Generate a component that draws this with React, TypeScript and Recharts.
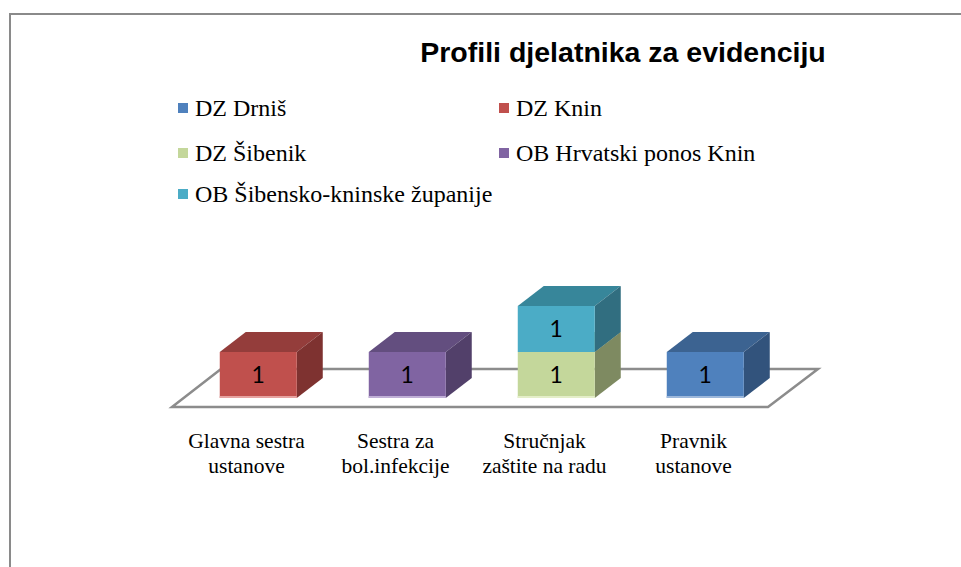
import React from 'react';
import { BarChart, Bar, XAxis, YAxis, ReferenceArea, LabelList } from 'recharts';

// categories (line break where the original wraps)
const categories = ['Glavna sestra\nustanove', 'Sestra za\nbol.infekcije', 'Stručnjak\nzaštite na radu', 'Pravnik\nustanove'];

// series values per category (null = no bar)
const dzDrnis = [null, null, null, 1];
const dzKnin = [1, null, null, null];
const dzSibenik = [null, null, 1, null];
const obHrvatskiPonos = [null, 1, null, null];
const obSibenskoKninske = [null, null, 1, null];

const seriesNames = ['DZ Drniš', 'DZ Knin', 'DZ Šibenik', 'OB Hrvatski ponos Knin', 'OB Šibensko-kninske županije'];
const seriesValues = [dzDrnis, dzKnin, dzSibenik, obHrvatskiPonos, obSibenskoKninske];

const seriesStyle = [
  { front: '#4F81BD', top: '#3C6391', side: '#32537C', strip: '#9DB8DB', base: true },
  { front: '#C0504D', top: '#943D3B', side: '#7E3230', strip: '#E6A3A1', base: true },
  { front: '#C4D79B', top: '#98A878', side: '#7E8A61', strip: '#E4EEC9', base: true },
  { front: '#8064A2', top: '#634E7F', side: '#52406A', strip: '#C0AFD6', base: true },
  { front: '#4BACC6', top: '#37869A', side: '#316E80', strip: '#4BACC6', base: false },
];

const keys = seriesNames.map((_, i) => `s${i}`);

const data = categories.map((name, ci) => {
  const row: Record<string, any> = { name };
  seriesValues.forEach((vals, si) => {
    row[keys[si]] = vals[ci];
  });
  return row;
});

const DX = 26;
const DY = 20;

const Box3D = (props: any) => {
  const { x, y, width, height, st } = props;
  if (!height || height <= 0.5) return null;
  const r = x + width;
  const b = y + height;
  return (
    <g>
      <polygon points={`${x},${y} ${x + DX},${y - DY} ${r + DX},${y - DY} ${r},${y}`} fill={st.top} />
      <polygon points={`${r},${y} ${r + DX},${y - DY} ${r + DX},${b - DY} ${r},${b}`} fill={st.side} />
      <rect x={x} y={y} width={width} height={height} fill={st.front} />
      {st.base && <rect x={x} y={b - 2} width={width} height={2} fill={st.strip} />}
    </g>
  );
};

const Floor = (props: any) => {
  const { x, y, width, height } = props;
  const base = y + height;
  const pts = `${x - 12},${base + 9} ${x + width - 12},${base + 9} ${x + width + 38},${base - 29} ${x + 37},${base - 29}`;
  return <polygon points={pts} fill="none" stroke="#8C8C8C" strokeWidth={2.5} strokeLinejoin="miter" />;
};

const ValueLabel = (props: any) => {
  const { x, y, width, height, value } = props;
  if (value == null || !height || height <= 0.5) return null;
  return (
    <text x={x + width / 2} y={y + height / 2 + 8} textAnchor="middle" fontSize={23} fontFamily="Lato, 'Open Sans', sans-serif" fill="#000">
      {value}
    </text>
  );
};

const CategoryTick = (props: any) => {
  const { x, y, payload } = props;
  const lines = String(payload.value).split('\n');
  return (
    <text textAnchor="middle" fontSize={21.5} fontFamily="'Liberation Serif', 'Times New Roman', serif" fill="#000">
      {lines.map((l, i) => (
        <tspan key={i} x={x - 12} y={y + 42 + i * 25}>{l}</tspan>
      ))}
    </text>
  );
};

const legendPos = [
  { left: 178, top: 108 },
  { left: 499, top: 108 },
  { left: 178, top: 153 },
  { left: 499, top: 153 },
  { left: 178, top: 194 },
];

export default function App() {
  return (
    <div style={{ position: 'absolute', left: 0, top: 0, width: 961, height: 567, background: '#fff', overflow: 'hidden' }}>
      <div style={{ position: 'absolute', left: 9, top: 13, width: 960, height: 560, borderLeft: '2px solid #8A8A8A', borderTop: '2px solid #8A8A8A' }} />
      <div
        style={{
          position: 'absolute', left: 323, top: 35, width: 600, textAlign: 'center',
          fontFamily: "'Liberation Sans', Arial, sans-serif", fontWeight: 'bold', fontSize: 28.5, lineHeight: '34px', color: '#000',
        }}
      >
        Profili djelatnika za evidenciju
      </div>
      {seriesNames.map((n, i) => (
        <div
          key={n}
          style={{
            position: 'absolute', left: legendPos[i].left, top: legendPos[i].top - 15, height: 30,
            display: 'flex', alignItems: 'center', whiteSpace: 'nowrap',
            fontFamily: "'Liberation Serif', 'Times New Roman', serif", fontSize: 24, color: '#000',
          }}
        >
          <span style={{ display: 'inline-block', width: 10, height: 10, background: seriesStyle[i].front, marginRight: 7 }} />
          {n}
        </div>
      ))}
      <div style={{ position: 'absolute', left: 0, top: 0 }}>
        <BarChart width={961} height={567} data={data} margin={{ top: 260, right: 181, bottom: 139, left: 184 }} barCategoryGap="24%">
          <XAxis dataKey="name" height={30} axisLine={false} tickLine={false} interval={0} tick={<CategoryTick />} />
          <YAxis hide domain={[0, 3]} />
          <ReferenceArea y1={0} y2={0.5} ifOverflow="visible" shape={<Floor />} />
          {keys.map((k, i) => (
            <Bar
              key={k}
              dataKey={k}
              name={seriesNames[i]}
              stackId="a"
              fill={seriesStyle[i].front}
              isAnimationActive={false}
              shape={(p: any) => <Box3D {...p} st={seriesStyle[i]} />}
            >
              <LabelList dataKey={k} content={<ValueLabel />} />
            </Bar>
          ))}
        </BarChart>
      </div>
    </div>
  );
}
